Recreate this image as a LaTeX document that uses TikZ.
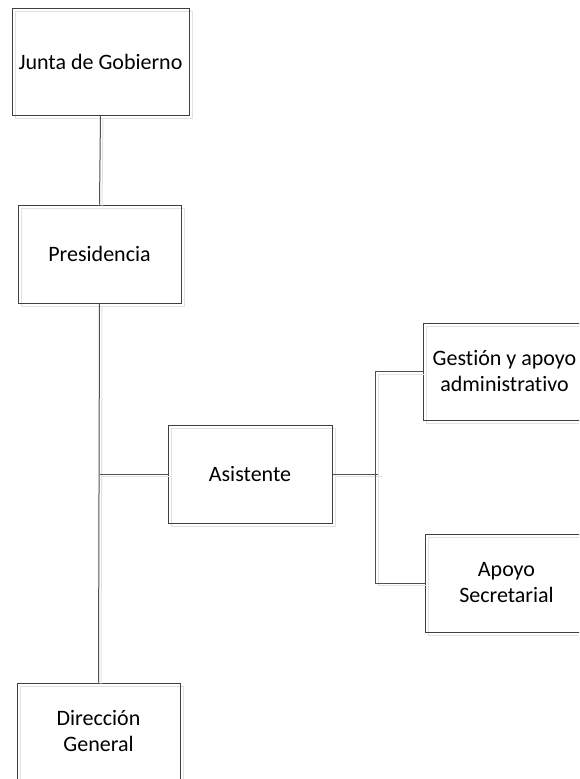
\documentclass[tikz,border=0pt]{standalone}
\usepackage{fontspec}
\setmainfont{Carlito}[RawFeature={-liga;-dlig}]
\usetikzlibrary{shadows}
\definecolor{boxline}{HTML}{404040}
\definecolor{linkline}{HTML}{505050}
\definecolor{ghost}{HTML}{E2E2E2}
\begin{document}
\begin{tikzpicture}[x=1pt,y=-1pt,
  unitbox/.style={draw=boxline, line width=1pt, fill=none, inner sep=0pt,
    align=center, font=\fontsize{22}{26}\selectfont,
    drop shadow={shadow xshift=3pt, shadow yshift=-3pt, fill=none,
      draw=ghost, opacity=1, line width=1pt}},
  link/.style={draw=linkline, line width=1pt,
    preaction={draw=ghost, line width=1pt,
      transform canvas={shift={(2.5pt,-2.5pt)}}}}]
\useasboundingbox (0,0) rectangle (579,779);
\clip (0,0) rectangle (579,779);

% boxes of the chart
\node[unitbox, minimum width=177pt, minimum height=107pt] (junta) at (100.5,61.5) {Junta de Gobierno};
\node[unitbox, minimum width=163pt, minimum height=98pt] (pres) at (99.5,254) {Presidencia};
\node[unitbox, minimum width=164pt, minimum height=98pt] (asis) at (250,474) {Asistente};
\node[unitbox, minimum width=163pt, minimum height=97pt] (gest) at (504.5,371.5) {Gestión y apoyo\\administrativo};
\node[unitbox, minimum width=163pt, minimum height=98pt] (apoyo) at (506.5,583) {Apoyo\\Secretarial};
\node[unitbox, minimum width=163pt, minimum height=97pt] (dir) at (98.5,731.5) {Dirección\\General};

% connectors
\coordinate (tee) at (379,474);
\draw[link] (junta.south) -- (pres.north);
\draw[link] (pres.south) -- (dir.north);
\draw[link] (pres.south |- asis.west) -- (asis.west);
\draw[link] (asis.east) -- (tee);
\draw[link] (gest.west) -- ++(-47,0) |- (apoyo.west);
\end{tikzpicture}
\end{document}
